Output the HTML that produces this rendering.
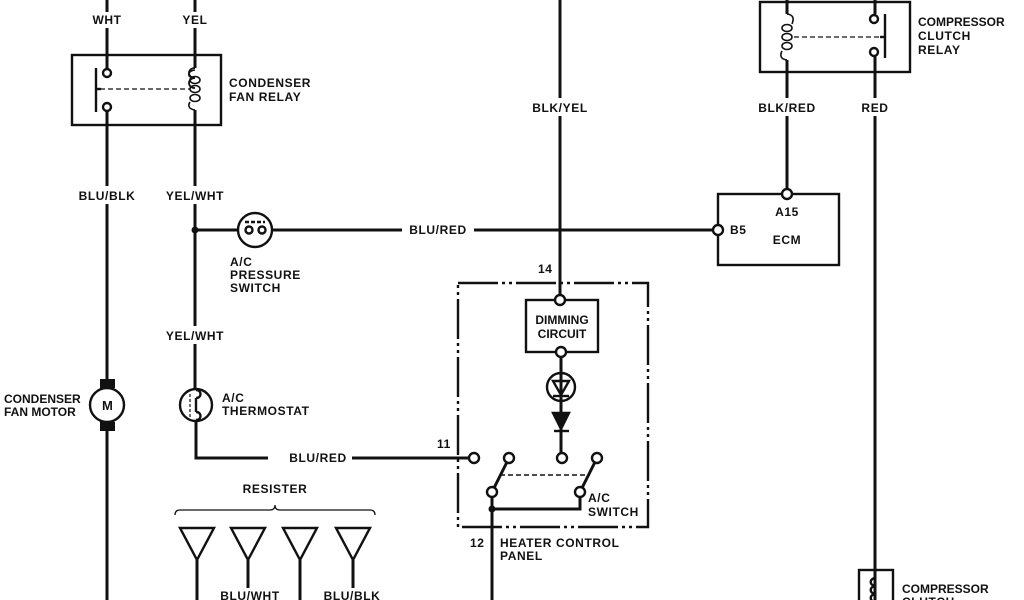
<!DOCTYPE html>
<html><head><style>body{margin:0;background:#fff}svg{display:block}text{font-family:"Liberation Sans",sans-serif;font-size:12px;font-weight:bold;fill:#111;letter-spacing:0.6px}</style></head><body>
<svg width="1024" height="600" viewBox="0 0 1024 600" xmlns="http://www.w3.org/2000/svg">
<rect width="1024" height="600" fill="#fff"/>
<g stroke="#111" stroke-width="3" fill="none">
<line x1="107" y1="0" x2="107" y2="12"/><line x1="107" y1="28" x2="107" y2="68"/>
<line x1="107" y1="112" x2="107" y2="186"/><line x1="107" y1="204" x2="107" y2="380"/>
<line x1="107" y1="430" x2="107" y2="600"/>
<line x1="195" y1="0" x2="195" y2="12"/><line x1="195" y1="28" x2="195" y2="68"/>
<line x1="195" y1="110" x2="195" y2="186"/><line x1="195" y1="204" x2="195" y2="326"/>
<line x1="195" y1="344" x2="195" y2="390"/>
<polyline points="196,420 196,458 268,458"/><line x1="352" y1="458" x2="470" y2="458"/>
<line x1="195" y1="230" x2="238" y2="230"/><line x1="272" y1="230" x2="402" y2="230"/><line x1="474" y1="230" x2="714" y2="230"/>
<line x1="560" y1="0" x2="560" y2="98"/><line x1="560" y1="116" x2="560" y2="296"/>
<line x1="561" y1="356" x2="561" y2="454"/>
<line x1="787" y1="0" x2="787" y2="14"/><line x1="787" y1="60" x2="787" y2="98"/><line x1="787" y1="116" x2="787" y2="190"/>
<line x1="875" y1="0" x2="875" y2="14"/><line x1="875" y1="56" x2="875" y2="98"/><line x1="875" y1="116" x2="875" y2="600"/>
<line x1="492" y1="496" x2="492" y2="600"/>
<polyline points="492,509 580,509 580,496"/>
<line x1="494" y1="488" x2="507" y2="462"/><line x1="582" y1="488" x2="595" y2="462"/>
<line x1="197" y1="560" x2="197" y2="600"/><line x1="248" y1="560" x2="248" y2="588"/>
<line x1="300" y1="560" x2="300" y2="600"/><line x1="353" y1="560" x2="353" y2="588"/>
</g>
<g stroke="#111" stroke-width="2.4" fill="none">
<rect x="72" y="55" width="149" height="70"/>
<rect x="760" y="2" width="150" height="70"/>
<rect x="718" y="194" width="121" height="71"/>
<rect x="526" y="300" width="72" height="52"/>
<rect x="859" y="570" width="34" height="40"/>
<line x1="96" y1="68" x2="96" y2="112"/><line x1="96" y1="89" x2="101" y2="89"/>
<line x1="885" y1="14" x2="885" y2="58"/><line x1="880" y1="37" x2="885" y2="37"/>
<line x1="100" y1="89" x2="190" y2="89" stroke-dasharray="5,3" stroke-width="1.3"/>
<line x1="794" y1="37" x2="880" y2="37" stroke-dasharray="5,3" stroke-width="1.3"/>
<line x1="500" y1="475" x2="590" y2="475" stroke-dasharray="5,3" stroke-width="1.5"/>
<path d="M195,68 c-8,0 -8,10 0,10 c-8,0 -8,10 0,10 M195,68 m0,0 c-8,0 -8,10 0,10" stroke-width="1.8"/>
<g stroke-width="1.6">
<ellipse cx="195" cy="80" rx="5" ry="3.5"/><ellipse cx="195" cy="89" rx="5" ry="3.5"/><ellipse cx="195" cy="98" rx="5" ry="3.5"/>
<path d="M195,70 c-7,1 -7,5 -5,7 M195,110 c-7,-1 -7,-5 -5,-8"/>
<ellipse cx="787" cy="28" rx="5" ry="3.5"/><ellipse cx="787" cy="37" rx="5" ry="3.5"/><ellipse cx="787" cy="46" rx="5" ry="3.5"/>
<path d="M787,14 c7,1 7,5 5,10 M787,60 c-7,-1 -7,-5 -5,-9"/>
</g>
<circle cx="107" cy="73" r="4" fill="#fff"/><circle cx="107" cy="107" r="4" fill="#fff"/>
<circle cx="874" cy="19" r="4" fill="#fff"/><circle cx="874" cy="52" r="4" fill="#fff"/>
<circle cx="255" cy="230" r="17"/>
<line x1="245" y1="222" x2="265" y2="222" stroke-dasharray="4,2"/>
<circle cx="249" cy="230" r="3.5"/><circle cx="262" cy="230" r="3.5"/>
<circle cx="107" cy="405" r="17" fill="#fff"/>
<circle cx="196" cy="405" r="16"/>
<path d="M196,390 c6,0 6,8 0,8 M196,412 c6,0 6,8 0,8 M196,398 v14" />
<line x1="190" y1="394" x2="190" y2="418" stroke-dasharray="3,2" stroke-width="1.2"/>
<circle cx="787" cy="194" r="5" fill="#fff"/><circle cx="718" cy="230" r="5" fill="#fff"/>
<circle cx="560" cy="300" r="5" fill="#fff"/><circle cx="561" cy="352" r="5" fill="#fff"/>
<circle cx="561" cy="387" r="14"/>
<path d="M553,381 h16 l-8,14 z"/><line x1="553" y1="396" x2="569" y2="396"/>
<path d="M553,413 h16 l-8,16 z" fill="#111"/><line x1="554" y1="431" x2="569" y2="431"/>
<line x1="561" y1="400" x2="561" y2="413" stroke-width="3"/>
<circle cx="474" cy="458" r="5" fill="#fff"/><circle cx="509" cy="458" r="5" fill="#fff"/>
<circle cx="562" cy="458" r="5" fill="#fff"/><circle cx="597" cy="458" r="5" fill="#fff"/>
<circle cx="492" cy="492" r="5" fill="#fff"/><circle cx="580" cy="492" r="5" fill="#fff"/>
<rect x="458" y="283" width="190" height="244" stroke-dasharray="40,4,3,4,3,4"/>
<path d="M175,515 q0,-5 5,-5 h90 q5,0 5,-5 q0,5 5,5 h90 q5,0 5,5" stroke-width="1.3"/>
<path d="M180,528 h34 l-17,32 z M231,528 h34 l-17,32 z M283,528 h34 l-17,32 z M336,528 h34 l-17,32 z"/>
<path d="M876,578 c-7,0 -7,8 0,8 c-7,0 -7,8 0,8 c-7,0 -7,8 0,8"/>
</g>
<rect x="100" y="379" width="15" height="9" fill="#111"/><rect x="100" y="422" width="15" height="9" fill="#111"/>
<text x="102" y="410" style="font-size:13px">M</text>
<circle cx="195" cy="230" r="3.5" fill="#111"/><circle cx="492" cy="509" r="3.5" fill="#111"/>
<g text-anchor="middle">
<text x="107" y="24">WHT</text><text x="195" y="24">YEL</text>
<text x="107" y="200">BLU/BLK</text><text x="195" y="200">YEL/WHT</text>
<text x="195" y="340">YEL/WHT</text>
<text x="438" y="234">BLU/RED</text><text x="318" y="462">BLU/RED</text>
<text x="560" y="112">BLK/YEL</text><text x="787" y="112">BLK/RED</text><text x="875" y="112">RED</text>
<text x="275" y="493">RESISTER</text>
<text x="250" y="600">BLU/WHT</text><text x="352" y="600">BLU/BLK</text>
<text x="787" y="216">A15</text><text x="787" y="244">ECM</text>
<text x="562" y="324" style="letter-spacing:0">DIMMING</text><text x="562" y="338" style="letter-spacing:0">CIRCUIT</text>
</g>
<text x="229" y="87">CONDENSER</text><text x="229" y="101">FAN RELAY</text>
<text x="230" y="266">A/C</text><text x="230" y="279">PRESSURE</text><text x="230" y="292">SWITCH</text>
<text x="4" y="403" style="letter-spacing:0">CONDENSER</text><text x="4" y="416" style="letter-spacing:0">FAN MOTOR</text>
<text x="222" y="402">A/C</text><text x="222" y="415">THERMOSTAT</text>
<text x="918" y="26" style="letter-spacing:0">COMPRESSOR</text><text x="918" y="40">CLUTCH</text><text x="918" y="54">RELAY</text>
<text x="730" y="234">B5</text>
<text x="538" y="273">14</text><text x="437" y="448">11</text>
<text x="588" y="502">A/C</text><text x="588" y="516">SWITCH</text>
<text x="470" y="547">12</text><text x="500" y="547">HEATER CONTROL</text><text x="500" y="560">PANEL</text>
<text x="902" y="593" style="letter-spacing:0">COMPRESSOR</text><text x="902" y="606">CLUTCH</text>
</svg>
</body></html>
